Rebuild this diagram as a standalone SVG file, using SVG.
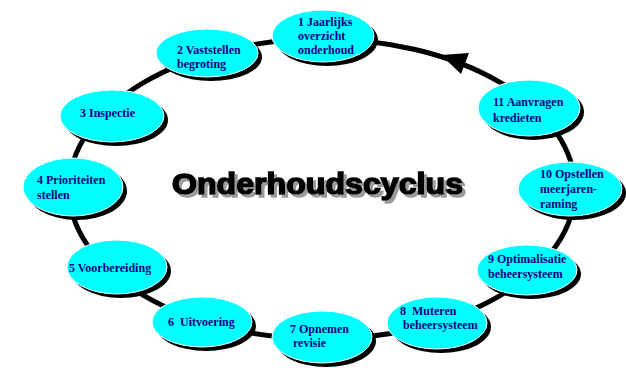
<svg xmlns="http://www.w3.org/2000/svg" width="626" height="368" viewBox="0 0 626 368">
<defs>
<style>
.sh{fill:#000}
.nd{fill:#00FFFF;stroke:#fff;stroke-width:1}
.t{font-family:"Liberation Serif","Times New Roman",serif;font-weight:bold;font-size:12px;fill:#000080}
.ttl{font-family:"Liberation Sans",Arial,sans-serif;font-weight:bold;font-size:29px}
</style>
<filter id="tshadow" x="-5%" y="-30%" width="115%" height="170%">
<feOffset in="SourceAlpha" dx="3" dy="3" result="off"/>
<feFlood flood-color="#9a9a9a"/>
<feComposite in2="off" operator="in" result="grey"/>
<feMerge><feMergeNode in="grey"/><feMergeNode in="SourceGraphic"/></feMerge>
</filter>
</defs>
<rect width="626" height="368" fill="#fff"/>
<g id="connectors">
<ellipse cx="322" cy="189" rx="253" ry="150" fill="none" stroke="#000" stroke-width="5"/>
<polygon points="441,55 469,53 461,74" fill="#000"/>
</g>
<g id="title">
<text class="ttl" x="172" y="194" textLength="291" lengthAdjust="spacingAndGlyphs" fill="#000" stroke="#000" stroke-width="1.6" filter="url(#tshadow)">Onderhoudscyclus</text>
</g>
<g id="n1">
<ellipse class="sh" cx="327" cy="40" rx="51" ry="26"/>
<ellipse class="nd" cx="323" cy="36" rx="51" ry="26"/>
<text class="t" x="298"><tspan x="298" y="26">1 Jaarlijks</tspan><tspan x="298" y="40">overzicht</tspan><tspan x="298" y="54">onderhoud</tspan></text>
</g>
<g id="n2">
<ellipse class="sh" cx="211" cy="57" rx="51" ry="24"/>
<ellipse class="nd" cx="207" cy="53" rx="51" ry="24"/>
<text class="t"><tspan x="177" y="54">2 Vaststellen</tspan><tspan x="177" y="68">begroting</tspan></text>
</g>
<g id="n3">
<ellipse class="sh" cx="116" cy="120" rx="52" ry="26"/>
<ellipse class="nd" cx="112" cy="116" rx="52" ry="26"/>
<text class="t" x="80" y="117">3 Inspectie</text>
</g>
<g id="n4">
<ellipse class="sh" cx="77" cy="191" rx="50" ry="29"/>
<ellipse class="nd" cx="73" cy="187" rx="50" ry="29"/>
<text class="t"><tspan x="37" y="184">4 Prioriteiten</tspan><tspan x="37" y="199">stellen</tspan></text>
</g>
<g id="n5">
<ellipse class="sh" cx="121" cy="271" rx="50" ry="27"/>
<ellipse class="nd" cx="117" cy="267" rx="50" ry="27"/>
<text class="t" x="69" y="272">5 Voorbereiding</text>
</g>
<g id="n6">
<ellipse class="sh" cx="206" cy="326" rx="50" ry="25"/>
<ellipse class="nd" cx="202" cy="322" rx="50" ry="25"/>
<text class="t" x="168" y="326" xml:space="preserve">6  Uitvoering</text>
</g>
<g id="n7">
<ellipse class="sh" cx="326" cy="341" rx="50" ry="26"/>
<ellipse class="nd" cx="322" cy="337" rx="50" ry="26"/>
<text class="t"><tspan x="290" y="333">7 Opnemen</tspan><tspan x="293" y="347">revisie</tspan></text>
</g>
<g id="n8">
<ellipse class="sh" cx="441" cy="327" rx="50" ry="26"/>
<ellipse class="nd" cx="437" cy="323" rx="50" ry="26"/>
<text class="t" xml:space="preserve"><tspan x="400" y="315">8  Muteren</tspan><tspan x="403" y="329">beheersysteem</tspan></text>
</g>
<g id="n9">
<ellipse class="sh" cx="531" cy="274" rx="50" ry="25"/>
<ellipse class="nd" cx="527" cy="270" rx="50" ry="25"/>
<text class="t"><tspan x="488" y="263">9 Optimalisatie</tspan><tspan x="488" y="278">beheersysteem</tspan></text>
</g>
<g id="n10">
<ellipse class="sh" cx="574" cy="193" rx="52" ry="27"/>
<ellipse class="nd" cx="570" cy="189" rx="52" ry="27"/>
<text class="t"><tspan x="540" y="178">10 Opstellen</tspan><tspan x="540" y="193">meerjaren-</tspan><tspan x="540" y="208">raming</tspan></text>
</g>
<g id="n11">
<ellipse class="sh" cx="533" cy="112" rx="51" ry="28"/>
<ellipse class="nd" cx="529" cy="108" rx="51" ry="28"/>
<text class="t"><tspan x="493" y="106">11 Aanvragen</tspan><tspan x="493" y="122">kredieten</tspan></text>
</g>
</svg>
